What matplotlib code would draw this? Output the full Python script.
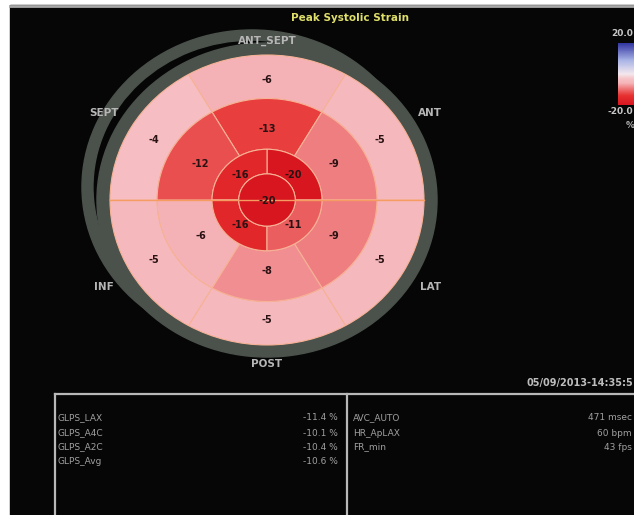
import numpy as np
import matplotlib
matplotlib.use("Agg")
import matplotlib.pyplot as plt
from matplotlib.patches import Wedge, Rectangle
from matplotlib.transforms import Affine2D
from matplotlib.colors import LinearSegmentedColormap, Normalize
from matplotlib.cm import ScalarMappable

# ---- segment data (peak systolic strain, %) ----
basal_names = ["ANT_SEPT", "ANT", "LAT", "POST", "INF", "SEPT"]
basal_strain = [-6, -5, -5, -5, -5, -4]
mid_strain = [-13, -9, -9, -8, -6, -12]
apical_strain = [-20, -16, -16, -11]
apex_strain = [-20]

glps_names = ["GLPS_LAX", "GLPS_A4C", "GLPS_A2C", "GLPS_Avg"]
glps_values = [-11.4, -10.1, -10.4, -10.6]
info_names = ["AVC_AUTO", "HR_ApLAX", "FR_min"]
info_values = ["471 msec", "60 bpm", "43 fps"]
timestamp = "05/09/2013-14:35:5"
scale_limits = [-20.0, 20.0]

# ---- figure in pixel units ----
W, H = 634, 515
fig = plt.figure(figsize=(W / 100, H / 100), dpi=100)
fig.patch.set_facecolor("white")
ax = fig.add_axes([0, 0, 1, 1])
ax.set_xlim(0, W)
ax.set_ylim(H, 0)
ax.axis("off")

ax.add_patch(Rectangle((10, 5), W - 10, H - 5, color="#060607", zorder=0))
ax.plot([10, W], [5.5, 5.5], color="#a8a8a8", lw=2.0, zorder=1)

# strain colour scale: red (shortening) -> white -> blue (lengthening)
cmap = LinearSegmentedColormap.from_list(
    "strain",
    [(0.0, "#d8161f"), (0.15, "#e6302f"), (0.275, "#ef7e80"),
     (0.35, "#f5b3b7"), (0.425, "#f6c4c8"), (0.5, "#f4e8ee"),
     (0.72, "#a9b4e6"), (1.0, "#3034a0")])
norm = Normalize(*scale_limits)

# bull's eye geometry (unit ellipse mapped to pixels)
cx, cy, sx, sy = 267, 200, 157, 145
R_APEX, R_APICAL, R_MID, R_BASAL = 0.18, 0.35, 0.70, 1.0


def unit_tf(x0, y0):
    return Affine2D().scale(sx, -sy).translate(x0, y0) + ax.transData


tf = unit_tf(cx, cy)
ring_gray = "#4b514b"
# offset outer rim and concentric rim
ax.add_patch(Wedge((0, 0), 1.083, 0, 360, width=0.07, color=ring_gray,
                   transform=unit_tf(cx - 15, cy - 13), zorder=2))
ax.add_patch(Wedge((0, 0), 1.083, 0, 360, width=0.09, color=ring_gray,
                   transform=tf, zorder=3))

edge = "#f7b296"


def draw_ring(values, centers, span, r_out, r_in, zo):
    for v, c in zip(values, centers):
        ax.add_patch(Wedge((0, 0), r_out, c - span / 2, c + span / 2,
                           width=r_out - r_in, facecolor=cmap(norm(v)),
                           edgecolor=edge, lw=0.8, transform=tf, zorder=zo))


six_centers = [90, 30, -30, -90, -150, 150]
four_centers = [45, 135, 225, 315]
draw_ring(basal_strain, six_centers, 60, R_BASAL, R_MID, 4)
draw_ring(mid_strain, six_centers, 60, R_MID, R_APICAL, 5)
draw_ring(apical_strain, four_centers, 90, R_APICAL, R_APEX, 6)
ax.add_patch(Wedge((0, 0), R_APEX, 0, 360, facecolor=cmap(norm(apex_strain[0])),
                   edgecolor=edge, lw=0.8, transform=tf, zorder=7))
ax.plot([cx - sx, cx + sx], [cy, cy], color="#f59c62", lw=1.0, zorder=8)


def to_px(r, ang):
    a = np.deg2rad(ang)
    return cx + r * sx * np.cos(a), cy - r * sy * np.sin(a)


num_kw = dict(ha="center", va="center", fontsize=7, fontweight="bold",
              color="#2a1214", zorder=10)
for v, c in zip(basal_strain, six_centers):
    ax.text(*to_px(0.83, c), f"{v}", **num_kw)
for v, c in zip(mid_strain, six_centers):
    ax.text(*to_px(0.49, c), f"{v}", **num_kw)
for v, c in zip(apical_strain, four_centers):
    ax.text(*to_px(0.24, c), f"{v}", **num_kw)
ax.text(cx, cy + 1, f"{apex_strain[0]}", **num_kw)

# wall names around the rim
name_radius = [1.10, 1.20, 1.20, 1.13, 1.20, 1.20]
for name, c, r in zip(basal_names, six_centers, name_radius):
    ax.text(*to_px(r, c), name, ha="center", va="center", fontsize=7.5,
            fontweight="bold", color="#b6b6b6", zorder=10)

ax.text(350, 18, "Peak Systolic Strain", ha="center", va="center",
        fontsize=7.5, fontweight="bold", color="#dede6a", zorder=10)

# colour bar
cax = fig.add_axes([618 / W, 1 - 105 / H, 22 / W, 62 / H])
cb = fig.colorbar(ScalarMappable(norm=norm, cmap=cmap), cax=cax)
cb.outline.set_visible(False)
cax.set_yticks([])
ax.text(W - 1, 33, f"{scale_limits[1]:.1f}", ha="right", va="center",
        fontsize=6.5, fontweight="bold", color="#c8c8c8")
ax.text(W - 1, 112, f"{scale_limits[0]:.1f}", ha="right", va="center",
        fontsize=6.5, fontweight="bold", color="#c8c8c8")
ax.text(626, 125, "%", ha="left", va="center", fontsize=6.5,
        fontweight="bold", color="#b0b0b0")

# measurement panel
box = "#b8b8b8"
ax.plot([55, W], [394, 394], color=box, lw=1.6, zorder=5)
ax.plot([55, 55], [394, H], color=box, lw=1.6, zorder=5)
ax.plot([347, 347], [394, H], color=box, lw=1.6, zorder=5)
ax.text(W - 1, 383, timestamp, ha="right", va="center", fontsize=7,
        fontweight="bold", color="#bdbdbd")

row_y = [418, 433, 447, 462]
txt = dict(fontsize=6.5, color="#a0a0a0", va="center")
for name, val, y in zip(glps_names, glps_values, row_y):
    ax.text(58, y, name, ha="left", **txt)
    ax.text(338, y, f"{val:.1f} %", ha="right", **txt)
for name, val, y in zip(info_names, info_values, row_y):
    ax.text(353, y, name, ha="left", **txt)
    ax.text(632, y, val, ha="right", **txt)

fig.savefig("out.png", dpi=100, facecolor=fig.get_facecolor())
